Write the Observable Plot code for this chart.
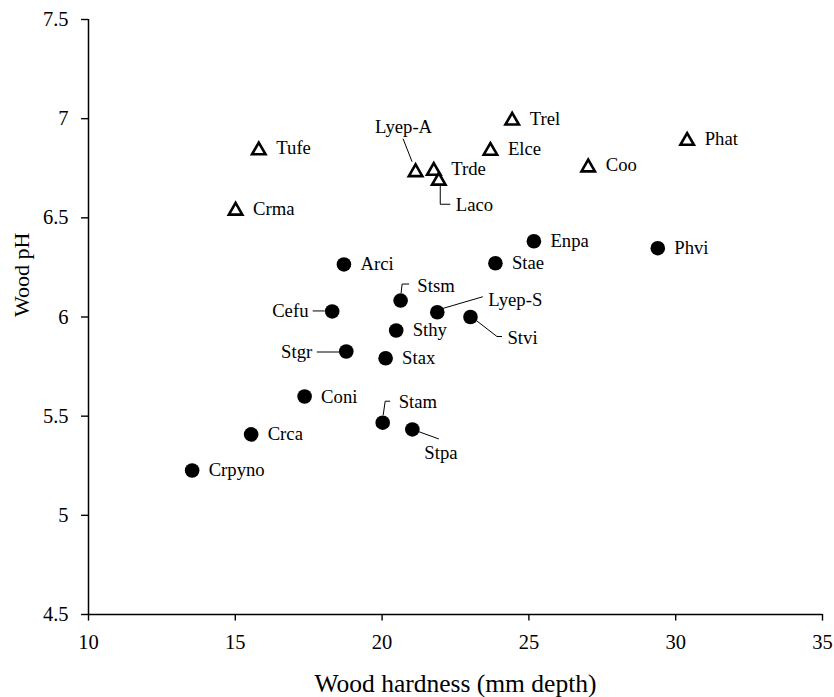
<!DOCTYPE html>
<html>
<head>
<meta charset="utf-8">
<script src="https://cdn.jsdelivr.net/npm/d3@7"></script>
<script src="https://cdn.jsdelivr.net/npm/@observablehq/plot@0.6"></script>
<style>
  html, body { margin: 0; padding: 0; background: #fff; }
  #chart svg { font-family: "Liberation Serif", "Times New Roman", serif; color: #000; background: #fff; }
</style>
</head>
<body>
<div id="chart"></div>
<script>
// ---- Data ----
const triNames = ["Tufe", "Crma", "Lyep-A", "Trde", "Laco", "Elce", "Trel", "Coo", "Phat"];
const triHardness = [15.80, 15.01, 21.14, 21.76, 21.93, 23.69, 24.43, 27.02, 30.39];
const triPH = [6.85, 6.546, 6.74, 6.747, 6.697, 6.848, 7.0, 6.764, 6.898];

const dotNames = ["Enpa", "Phvi", "Stae", "Arci", "Stsm", "Cefu", "Lyep-S", "Stvi", "Sthy", "Stgr", "Stax", "Coni", "Stam", "Stpa", "Crca", "Crpyno"];
const dotHardness = [25.17, 29.39, 23.86, 18.70, 20.63, 18.30, 21.88, 23.01, 20.48, 18.78, 20.12, 17.36, 20.02, 21.03, 15.54, 13.53];
const dotPH = [6.382, 6.347, 6.271, 6.265, 6.083, 6.028, 6.024, 6.0, 5.932, 5.826, 5.792, 5.599, 5.467, 5.433, 5.408, 5.226];

const xTicks = [10, 15, 20, 25, 30, 35];
const yTicks = [4.5, 5, 5.5, 6, 6.5, 7, 7.5];
const xTickLabels = ["10", "15", "20", "25", "30", "35"];
const yTickLabels = ["4.5", "5", "5.5", "6", "6.5", "7", "7.5"];
const xTitle = "Wood hardness (mm depth)";
const yTitle = "Wood pH";

// ---- Label layout (pixel offsets from the marker) ----
const labelLayout = {
  "Lyep-A": {dx: -12, dy: -43, anchor: "middle", leader: [[-12, -31], [-3, -8]]},
  "Laco":   {dx: 17, dy: 26, anchor: "start", leader: [[2, 6], [2, 26], [12, 26]]},
  "Stsm":   {dx: 16.7, dy: -15, anchor: "start", leader: [[1, -7], [2, -16], [9, -16]]},
  "Cefu":   {dx: -23.7, dy: 0, anchor: "end", leader: [[-19, 0], [-7, 0]]},
  "Lyep-S": {dx: 51, dy: -12, anchor: "start", leader: [[5, -3], [46, -15]]},
  "Stvi":   {dx: 37, dy: 21, anchor: "start", leader: [[5, 3], [27, 20], [32, 20]]},
  "Stgr":   {dx: -34, dy: 1, anchor: "end", leader: [[-29, 1], [-6, 1]]},
  "Stam":   {dx: 16, dy: -21, anchor: "start", leader: [[1, -7], [3, -21], [8, -21]]},
  "Stpa":   {dx: 12, dy: 24, anchor: "start", leader: [[5, 2], [27, 10]]}
};

const tris = triNames.map((n, i) => ({name: n, x: triHardness[i], y: triPH[i], kind: "tri"}));
const dots = dotNames.map((n, i) => ({name: n, x: dotHardness[i], y: dotPH[i], kind: "dot"}));
const all = [...tris, ...dots];
const xTickData = xTicks.map((v, i) => ({v, t: xTickLabels[i]}));
const yTickData = yTicks.map((v, i) => ({v, t: yTickLabels[i]}));

const font = "Liberation Serif, Times New Roman, serif";

const labelMarks = all.map(d => {
  const L = labelLayout[d.name] || {dx: d.kind === "tri" ? 17.5 : 16.5, dy: 0, anchor: "start"};
  return Plot.text([d], {x: "x", y: "y", text: "name", dx: L.dx, dy: L.dy, textAnchor: L.anchor,
    fontSize: 18.7, fontFamily: font, fill: "#000"});
});

const chart = Plot.plot({
  width: 834,
  height: 697,
  marginLeft: 88,
  marginRight: 12,
  marginTop: 19,
  marginBottom: 83,
  style: {fontFamily: font, color: "#000", background: "#fff"},
  x: {domain: [10, 35], ticks: xTicks, tickSize: 6.6, tickFormat: () => "", label: null},
  y: {domain: [4.5, 7.5], ticks: yTicks, tickSize: 7, tickFormat: () => "", label: null},
  marks: [
    Plot.ruleY([4.5], {stroke: "#000", strokeWidth: 1.5}),
    Plot.ruleX([10], {stroke: "#000", strokeWidth: 1.5}),
    Plot.text(xTickData, {x: "v", text: "t", frameAnchor: "bottom", dy: 19.5, lineAnchor: "top", fontSize: 20.5, fontFamily: font, fill: "#000"}),
    Plot.text(yTickData, {y: "v", text: "t", frameAnchor: "left", dx: -20, textAnchor: "end", fontSize: 20.5, fontFamily: font, fill: "#000"}),
    Plot.dot(dots, {x: "x", y: "y", r: 7.3, fill: "#000", stroke: "none"}),
    Plot.dot(tris, {x: "x", y: "y", symbol: "triangle", r: 5, fill: "#fff", stroke: "#000", strokeWidth: 2.6, dy: 2, strokeLinejoin: "miter"}),
    ...labelMarks,
    Plot.text([xTitle], {text: d => d, frameAnchor: "bottom", dy: 77, lineAnchor: "bottom", fontSize: 25.5, fontFamily: font, fill: "#000"}),
    Plot.text([yTitle], {text: d => d, frameAnchor: "left", dx: -67, rotate: -90, fontSize: 22, fontFamily: font, fill: "#000"})
  ]
});

document.getElementById("chart").appendChild(chart);

// Axis tick strokes in black
const svg = d3.select(chart);
const inAxis = function() { return !!this.closest('[aria-label*="axis"]'); };
svg.selectAll("path, line").filter(inAxis)
  .style("stroke", "#000")
  .style("stroke-width", "1.4px");

// Leader lines, placed with the chart's own scales
const sx = chart.scale("x"), sy = chart.scale("y");
const g = svg.append("g").attr("aria-label", "leaders");
all.forEach(d => {
  const L = labelLayout[d.name];
  if (!L || !L.leader) return;
  const px = sx.apply(d.x), py = sy.apply(d.y);
  const pts = L.leader.map(([ox, oy]) => [px + ox, py + oy]);
  g.append("path")
    .attr("d", d3.line()(pts))
    .attr("fill", "none")
    .attr("stroke", "#000")
    .attr("stroke-width", 1);
});
</script>
</body>
</html>
